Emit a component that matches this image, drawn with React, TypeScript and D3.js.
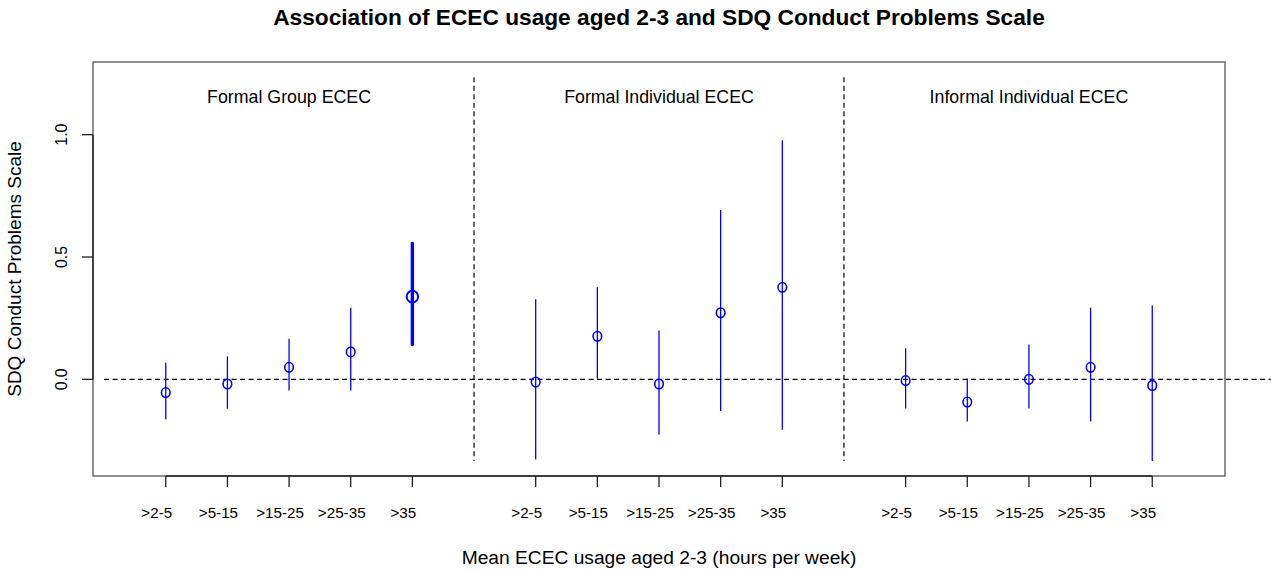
import React from "react";
import * as d3 from "d3";

// ---- Data ----
const groups = ["Formal Group ECEC", "Formal Individual ECEC", "Informal Individual ECEC"];
const hourBands = [">2-5", ">5-15", ">15-25", ">25-35", ">35"];

const formalGroupEst = [-0.054, -0.019, 0.049, 0.112, 0.338];
const formalGroupLow = [-0.163, -0.120, -0.046, -0.046, 0.142];
const formalGroupHigh = [0.068, 0.094, 0.166, 0.293, 0.555];

const formalIndivEst = [-0.011, 0.176, -0.019, 0.272, 0.376];
const formalIndivLow = [-0.328, 0.002, -0.226, -0.129, -0.206];
const formalIndivHigh = [0.327, 0.376, 0.200, 0.692, 0.977];

const informalIndivEst = [-0.005, -0.093, 0.0, 0.049, -0.025];
const informalIndivLow = [-0.119, -0.172, -0.119, -0.172, -0.334];
const informalIndivHigh = [0.127, 0.003, 0.142, 0.293, 0.302];

// significant estimates drawn thicker
const formalGroupSig = [false, false, false, false, true];
const formalIndivSig = [false, false, false, false, false];
const informalIndivSig = [false, false, false, false, false];

const yTicks = [0, 0.5, 1.0];

const title = "Association of ECEC usage aged 2-3 and SDQ Conduct Problems Scale";
const xTitle = "Mean ECEC usage aged 2-3 (hours per week)";
const yTitle = "SDQ Conduct Problems Scale";

const seriesEst = [formalGroupEst, formalIndivEst, informalIndivEst];
const seriesLow = [formalGroupLow, formalIndivLow, informalIndivLow];
const seriesHigh = [formalGroupHigh, formalIndivHigh, informalIndivHigh];
const seriesSig = [formalGroupSig, formalIndivSig, informalIndivSig];

type Pt = { pos: number; est: number; lo: number; hi: number; sig: boolean; label: string };
const points: Pt[] = [];
groups.forEach((g, gi) => {
  hourBands.forEach((b, j) => {
    points.push({
      pos: gi * 6 + j + 1,
      est: seriesEst[gi][j],
      lo: seriesLow[gi][j],
      hi: seriesHigh[gi][j],
      sig: seriesSig[gi][j],
      label: b,
    });
  });
});

const W = 1271;
const H = 571;
const FONT = "'Liberation Sans', Arial, Helvetica, sans-serif";

export default function App() {
  const x = d3.scaleLinear().domain([-0.18, 18.18]).range([93, 1225]);
  const y = d3.scaleLinear().domain([-0.395, 1.297]).range([476, 62]);
  const ylim = [-0.334, 1.235];
  const blue = "#0000FF";
  const xFirst = x(points[0].pos);
  const xLast = x(points[points.length - 1].pos);
  const cx = (x.range()[0] + x.range()[1]) / 2;

  return (
    <svg
      width={W}
      height={H}
      style={{ position: "absolute", left: 0, top: 0, background: "#fff" }}
      fontFamily={FONT}
    >
      <rect x={0} y={0} width={W} height={H} fill="#fff" />
      {/* title */}
      <text x={cx} y={25} textAnchor="middle" fontWeight="bold" fontSize={22.7} fill="#000">
        {title}
      </text>

      {/* zero reference line */}
      <line x1={x(0)} x2={W} y1={y(0)} y2={y(0)} stroke="#000" strokeWidth={1.2} strokeDasharray="5,3.5" />

      {/* group separators */}
      {[6, 12].map((p) => (
        <line key={p} x1={x(p)} x2={x(p)} y1={y(ylim[1])} y2={y(ylim[0])} stroke="#000" strokeWidth={1.2} strokeDasharray="5,3.5" />
      ))}

      {/* group labels */}
      {groups.map((g, gi) => (
        <text key={g} x={x(gi * 6 + 3)} y={103} textAnchor="middle" fontSize={17.8} fill="#000">
          {g}
        </text>
      ))}

      {/* error bars and points */}
      {points.map((p, i) => (
        <g key={i}>
          <line
            x1={x(p.pos)}
            x2={x(p.pos)}
            y1={y(p.lo)}
            y2={y(p.hi)}
            stroke={blue}
            strokeWidth={p.sig ? 3.4 : 1.3}
            strokeLinecap={p.sig ? "round" : "butt"}
          />
          <ellipse
            cx={x(p.pos)}
            cy={y(p.est)}
            rx={p.sig ? 5.7 : 4.3}
            ry={p.sig ? 5.9 : 4.8}
            fill="none"
            stroke={blue}
            strokeWidth={p.sig ? 2 : 1.6}
          />
        </g>
      ))}

      {/* box */}
      <rect x={93} y={62} width={1225 - 93} height={476 - 62} fill="none" stroke="#555" strokeWidth={1.3} />

      {/* x axis */}
      <line x1={xFirst} x2={xLast} y1={476} y2={476} stroke="#222" strokeWidth={1.4} />
      {points.map((p, i) => (
        <g key={"xt" + i}>
          <line x1={x(p.pos)} x2={x(p.pos)} y1={476} y2={487} stroke="#222" strokeWidth={1.3} />
          <text x={x(p.pos) - 9} y={518} textAnchor="middle" fontSize={15.2} fill="#000">
            {p.label}
          </text>
        </g>
      ))}

      {/* y axis */}
      <line x1={93} x2={93} y1={y(yTicks[0])} y2={y(yTicks[yTicks.length - 1])} stroke="#222" strokeWidth={1.4} />
      {yTicks.map((t) => (
        <g key={"yt" + t}>
          <line x1={82} x2={93} y1={y(t)} y2={y(t)} stroke="#222" strokeWidth={1.3} />
          <text
            transform={`translate(67,${y(t)}) rotate(-90)`}
            textAnchor="middle"
            fontSize={15.8}
            fill="#000"
          >
            {d3.format(".1f")(t)}
          </text>
        </g>
      ))}

      {/* axis titles */}
      <text x={cx} y={563.5} textAnchor="middle" fontSize={19.2} fill="#000">
        {xTitle}
      </text>
      <text
        transform={`translate(21,${(62 + 476) / 2}) rotate(-90)`}
        textAnchor="middle"
        fontSize={19}
        fill="#000"
      >
        {yTitle}
      </text>
    </svg>
  );
}
